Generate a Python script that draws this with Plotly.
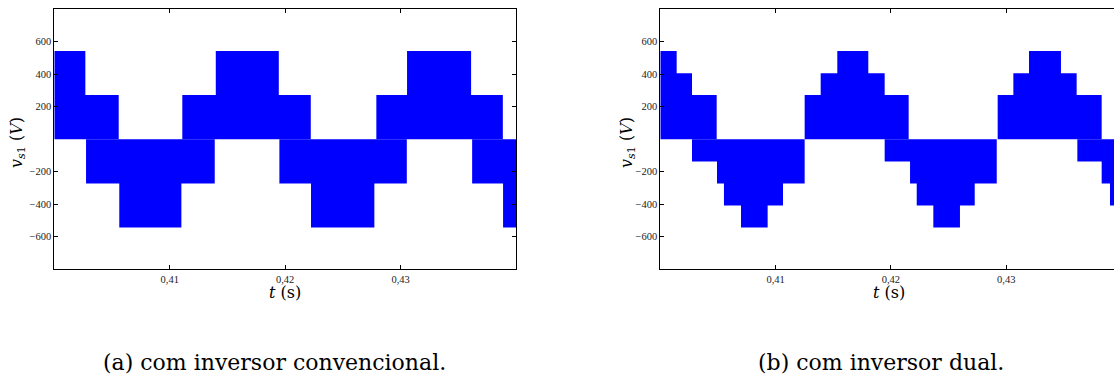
import plotly.graph_objects as go

# ---- data (switching envelopes of v_s1) ----
# (a) conventional inverter
conv_upper_t = [0.40000, 0.40269, 0.40558, 0.41109, 0.41399, 0.41945, 0.42222,
                0.42790, 0.43056, 0.43611, 0.43886, 0.44000]
conv_upper_v = [543, 272, 0, 272, 543, 272, 0, 272, 543, 272, 0, 0]
conv_lower_t = [0.40000, 0.40275, 0.40563, 0.41101, 0.41390, 0.41950, 0.42224,
                0.42773, 0.43054, 0.43620, 0.43888, 0.44000]
conv_lower_v = [0, -272, -543, -272, 0, -272, -543, -272, 0, -272, -543, -543]

# (b) dual inverter
dual_upper_t = [0.40000, 0.40142, 0.40275, 0.40489, 0.41252, 0.41391, 0.41535,
                0.41804, 0.41946, 0.42154, 0.42926, 0.43062, 0.43198, 0.43475,
                0.43611, 0.43828, 0.44000]
dual_upper_v = [543, 407, 272, 0, 272, 407, 543, 407, 272, 0, 272, 407, 543, 407,
                272, 0, 0]
dual_lower_t = [0.40000, 0.40275, 0.40492, 0.40552, 0.40700, 0.40931, 0.41064,
                0.41252, 0.41946, 0.42166, 0.42224, 0.42368, 0.42599, 0.42727,
                0.42918, 0.43617, 0.43828, 0.43900, 0.44000]
dual_lower_v = [0, -136, -272, -407, -543, -407, -272, 0, -136, -272, -407, -543,
                -407, -272, 0, -136, -272, -407, -407]

y_tickvals = [-600, -400, -200, 200, 400, 600]
y_ticktext = ["\u2212600", "\u2212400", "\u2212200", "200", "400", "600"]
x_tickvals = [0.41, 0.42, 0.43]
x_ticktext = ["0,41", "0,42", "0,43"]

BLUE = "#0000FF"
W, H = 1114, 376

fig = go.Figure()

def add_env(t, v, xa, ya):
    fig.add_trace(go.Scatter(x=t, y=v, mode="lines", line=dict(shape="hv", width=0, color=BLUE),
                             fill="tozeroy", fillcolor=BLUE, xaxis=xa, yaxis=ya,
                             showlegend=False, hoverinfo="skip"))

add_env(conv_upper_t, conv_upper_v, "x", "y")
add_env(conv_lower_t, conv_lower_v, "x", "y")
add_env(dual_upper_t, dual_upper_v, "x2", "y2")
add_env(dual_lower_t, dual_lower_v, "x2", "y2")

tickfont = dict(family="Liberation Serif", size=10.5, color="#222")
y_top, y_bot = 9.3, 269.3
ydom = [1 - y_bot / H, 1 - y_top / H]

common_x = dict(tickmode="array", tickvals=x_tickvals, ticktext=x_ticktext,
                ticks="inside", ticklen=4, tickwidth=1, tickcolor="black",
                showline=True, linecolor="black", linewidth=1, showgrid=False,
                zeroline=False, tickfont=tickfont, mirror="ticks")
common_y = dict(tickmode="array", tickvals=y_tickvals, ticktext=y_ticktext,
                ticks="inside", ticklen=4, tickwidth=1, tickcolor="black",
                showline=True, linecolor="black", linewidth=1, showgrid=False,
                zeroline=False, tickfont=tickfont, range=[-800, 800])

x0_right = 660.3
px_per_s = 11530.0
right_end = 0.40 + (W - x0_right) / px_per_s

fig.update_layout(
    width=W, height=H,
    margin=dict(l=0, r=0, t=0, b=0),
    paper_bgcolor="white", plot_bgcolor="white",
    xaxis=dict(domain=[54.3 / W, 516 / W], range=[0.40, 0.44], anchor="y", **common_x),
    yaxis=dict(domain=ydom, anchor="x", mirror="ticks", **common_y),
    xaxis2=dict(domain=[x0_right / W, 1.0], range=[0.40, right_end], anchor="y2", **common_x),
    yaxis2=dict(domain=ydom, anchor="x2", mirror=False, **common_y),
)

lab_font = dict(family="DejaVu Serif", size=16, color="black")
cap_font = dict(family="DejaVu Serif", size=22, color="black")
ylab = "<i>v</i><sub><i>s</i>1</sub> (<i>V</i>)"
xlab = "<i>t</i> (s)"
ann = [
    dict(x=18 / W, y=1 - 143 / H, text=ylab, textangle=-90, font=lab_font),
    dict(x=628 / W, y=1 - 143 / H, text=ylab, textangle=-90, font=lab_font),
    dict(x=285 / W, y=1 - 292 / H, text=xlab, font=lab_font),
    dict(x=889 / W, y=1 - 292 / H, text=xlab, font=lab_font),
    dict(x=274 / W, y=1 - 362 / H, text="(a) com inversor convencional.", font=cap_font),
    dict(x=881 / W, y=1 - 362 / H, text="(b) com inversor dual.", font=cap_font),
]
for a in ann:
    a.update(xref="paper", yref="paper", showarrow=False, xanchor="center", yanchor="middle")
fig.update_layout(annotations=ann)

fig.write_html("out.html", config={"displayModeBar": False},
               post_script="document.body.style.margin='0';document.body.style.overflow='hidden';")
